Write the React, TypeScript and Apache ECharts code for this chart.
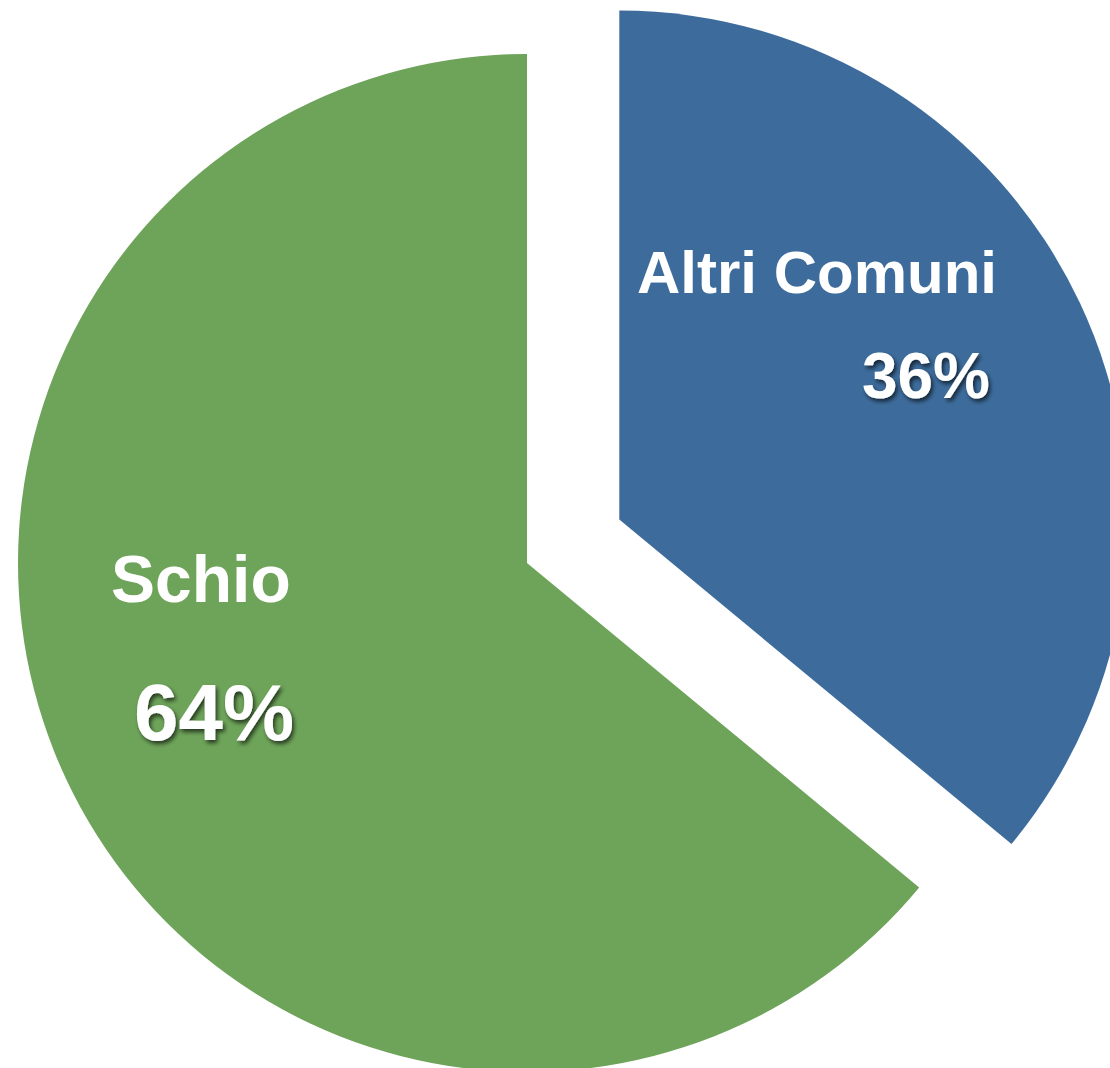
import React, { useEffect, useRef } from "react";
import * as echarts from "echarts";

const categories = ["Altri Comuni", "Schio"];
const values = [36, 64];
const colors = ["#3D6C9C", "#6EA45A"];
const percentLabels = ["36%", "64%"];

const FONT = "'Liberation Sans', Arial, Helvetica, sans-serif";

export default function App() {
  const ref = useRef<HTMLDivElement>(null);
  useEffect(() => {
    if (!ref.current) return;
    const chart = echarts.init(ref.current, undefined, { renderer: "svg" });
    const shadow = {
      textShadowColor: "rgba(0,0,0,0.65)",
      textShadowBlur: 4,
      textShadowOffsetX: 2,
      textShadowOffsetY: 3,
    };
    chart.setOption({
      animation: false,
      backgroundColor: "#ffffff",
      series: [
        {
          type: "pie",
          center: [527, 563],
          radius: 509,
          startAngle: 90,
          clockwise: true,
          selectedMode: "single",
          selectedOffset: 102,
          silent: true,
          z: 1,
          label: { show: false },
          labelLine: { show: false },
          emphasis: { disabled: true },
          data: categories.map((name, i) => ({
            name,
            value: values[i],
            selected: i === 0,
            itemStyle: { color: colors[i] },
          })),
        },
      ],
      graphic: {
        elements: [
          {
            type: "text",
            z: 100,
            x: 997,
            y: 272,
            style: {
              text: categories[0],
              fill: "#ffffff",
              font: `bold 60px ${FONT}`,
              align: "right",
              verticalAlign: "middle",
            },
          },
          {
            type: "text",
            z: 100,
            x: 990,
            y: 376,
            style: {
              text: percentLabels[0],
              fill: "#ffffff",
              font: `bold 64px ${FONT}`,
              align: "right",
              verticalAlign: "middle",
              ...shadow,
            },
          },
          {
            type: "text",
            z: 100,
            x: 111,
            y: 579,
            style: {
              text: categories[1],
              fill: "#ffffff",
              font: `bold 66px ${FONT}`,
              align: "left",
              verticalAlign: "middle",
            },
          },
          {
            type: "text",
            z: 100,
            x: 134,
            y: 712,
            style: {
              text: percentLabels[1],
              fill: "#ffffff",
              font: `bold 80px ${FONT}`,
              align: "left",
              verticalAlign: "middle",
              ...shadow,
            },
          },
        ],
      },
    });
    return () => chart.dispose();
  }, []);
  return (
    <div
      ref={ref}
      style={{ position: "fixed", left: 0, top: 0, width: 1110, height: 1068 }}
    />
  );
}
